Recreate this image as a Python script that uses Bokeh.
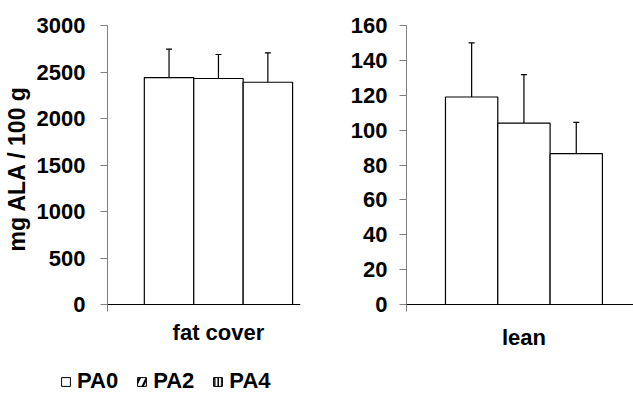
import numpy as np
from bokeh.plotting import figure
from bokeh.layouts import row, column
from bokeh.models import (ColumnDataSource, Whisker, TeeHead, FixedTicker, Span,
                          Legend, LegendItem, Range1d)
from bokeh.embed import file_html
from bokeh.resources import INLINE

# ---- data ----
groups = ["PA0", "PA2", "PA4"]
tissues = ["fat cover", "lean"]
fat_mean = [2440, 2430, 2390]
fat_sd = [305, 258, 316]
lean_mean = [119, 104, 86.5]
lean_sd = [31, 27.8, 18]
fat_ticks = [0, 500, 1000, 1500, 2000, 2500, 3000]
lean_ticks = [0, 20, 40, 60, 80, 100, 120, 140, 160]
y_label = "mg ALA / 100 g"

FONT = "Liberation Sans"
FS = "22px"
AXIS_GREY = "#808080"
LEG_H = 40


def panel(tissue, means, sds, ticks, y0, x_end, width, height,
          bl, br, bt, bb, tick_standoff, xlab_standoff, ylabel=None):
    x = np.arange(len(groups)) - 1.0
    means = np.array(means, dtype=float)
    sds = np.array(sds, dtype=float)
    src = ColumnDataSource(dict(x=x, top=means, upper=means + sds))
    p = figure(width=width, height=height,
               x_range=Range1d(-2.245, x_end), y_range=Range1d(y0, ticks[-1]),
               output_backend="svg", toolbar_location=None,
               min_border_left=bl, min_border_right=br,
               min_border_top=bt, min_border_bottom=bb)
    p.outline_line_color = None
    p.grid.grid_line_color = None
    p.background_fill_color = "white"
    p.border_fill_color = "white"

    p.vbar(x="x", top="top", bottom=0, width=1, source=src,
           fill_color="white", line_color="black", line_width=1.2)
    w = Whisker(base="x", lower="top", upper="upper", source=src,
                dimension="height", line_color="black", line_width=1.2,
                upper_head=TeeHead(size=6, line_color="black", line_width=1.2),
                lower_head=None)
    p.add_layout(w)
    p.add_layout(Span(location=0, dimension="width", line_color="black",
                      line_width=1))

    xa = p.xaxis[0]
    xa.ticker = FixedTicker(ticks=[0])
    xa.major_label_overrides = {0: tissue}
    xa.axis_line_color = None
    xa.major_tick_line_color = None
    xa.minor_tick_line_color = None
    xa.major_tick_out = 0
    xa.major_tick_in = 0
    xa.major_label_standoff = xlab_standoff
    xa.major_label_text_font = FONT
    xa.major_label_text_font_style = "bold"
    xa.major_label_text_font_size = FS
    xa.major_label_text_color = "black"

    ya = p.yaxis[0]
    ya.ticker = FixedTicker(ticks=ticks)
    ya.axis_line_color = AXIS_GREY
    ya.major_tick_line_color = AXIS_GREY
    ya.minor_tick_line_color = None
    ya.major_tick_in = 0
    ya.major_tick_out = 7
    ya.major_label_standoff = tick_standoff
    ya.major_label_text_font = FONT
    ya.major_label_text_font_style = "bold"
    ya.major_label_text_font_size = FS
    ya.major_label_text_color = "black"
    if ylabel:
        ya.axis_label = ylabel
        ya.axis_label_text_font = FONT
        ya.axis_label_text_font_style = "bold"
        ya.axis_label_text_font_size = "23px"
        ya.axis_label_text_color = "black"
        ya.axis_label_standoff = 4
    return p


H = 394 - LEG_H
p1 = panel(tissues[0], fat_mean, fat_sd, fat_ticks, -75, 1.66, 320, H,
           106, 20, 25, H - 311, 15, 8, ylabel=y_label)
p2 = panel(tissues[1], lean_mean, lean_sd, lean_ticks, -4, 2.094, 313, H,
           86, 0, 20, H - 316, 12, 13)

# legend strip (hidden renderers carrying the legend swatch styles)
pl = figure(width=633, height=LEG_H, output_backend="svg",
            toolbar_location=None, x_range=Range1d(0, 1), y_range=Range1d(0, 1),
            min_border_left=0, min_border_right=0, min_border_top=0,
            min_border_bottom=0, x_axis_location=None, y_axis_location=None)
pl.outline_line_color = None
pl.grid.grid_line_color = None
hatches = [None, "/", "|"]
scales = [12, 14, 3.5]
weights = [1.5, 2.2, 1.5]
items = []
for g, h, s, wt in zip(groups, hatches, scales, weights):
    r = pl.vbar(x=[0.5], top=[0], width=1, fill_color="white",
                line_color="black", line_width=1, hatch_pattern=h,
                hatch_scale=s, hatch_color="black", hatch_weight=wt)
    r.visible = False
    items.append(LegendItem(label=g, renderers=[r]))
leg = Legend(items=items, location=(60, 0), orientation="horizontal",
             glyph_width=11, glyph_height=11, label_standoff=6, spacing=18,
             padding=0, margin=0, border_line_alpha=0,
             background_fill_alpha=0, label_height=16,
             inactive_fill_alpha=0,
             label_text_font=FONT, label_text_font_style="bold",
             label_text_font_size=FS, label_text_color="black")
pl.add_layout(leg)

layout = column(row(p1, p2), pl)
open("out.html", "w").write(file_html(layout, INLINE))
